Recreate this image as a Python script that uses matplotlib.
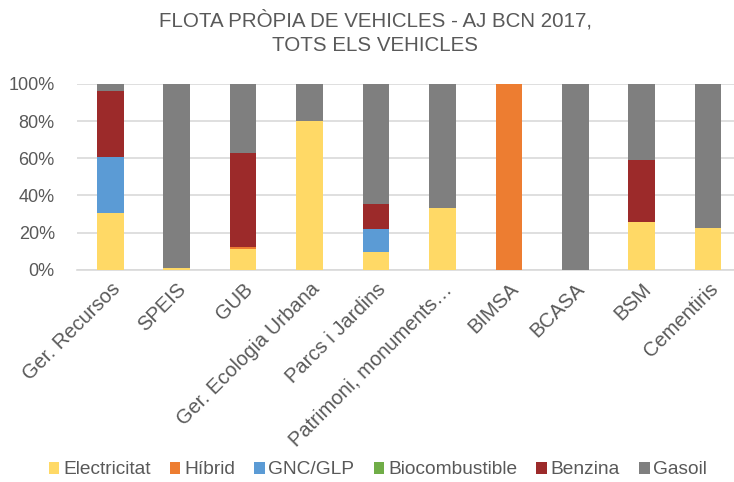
import matplotlib.pyplot as plt
import numpy as np

plt.rcParams['font.family'] = ['Liberation Sans', 'DejaVu Sans']

# Percentages of each department's own fleet, by fuel type
departments = ["Ger. Recursos", "SPEIS", "GUB", "Ger. Ecologia Urbana",
               "Parcs i Jardins", "Patrimoni, monuments\u2026", "BIMSA",
               "BCASA", "BSM", "Cementiris"]
electricitat = [30.4, 1.0, 11.1, 80.0, 9.6, 33.4, 0.0, 0.0, 25.7, 22.5]
hibrid = [0.0, 0.0, 1.4, 0.0, 0.0, 0.0, 100.0, 0.0, 0.0, 0.0]
gnc_glp = [30.3, 0.0, 0.0, 0.0, 12.4, 0.0, 0.0, 0.0, 0.0, 0.0]
biocombustible = [0, 0, 0, 0, 0, 0, 0, 0, 0, 0]
benzina = [35.2, 0.0, 50.5, 0.0, 13.2, 0.0, 0.0, 0.0, 33.2, 0.0]
gasoil = [4.1, 99.0, 37.0, 20.0, 64.8, 66.6, 0.0, 100.0, 41.1, 77.5]

series = [("Electricitat", electricitat, "#FFD966"),
          ("Híbrid", hibrid, "#ED7D31"),
          ("GNC/GLP", gnc_glp, "#5B9BD5"),
          ("Biocombustible", biocombustible, "#70AD47"),
          ("Benzina", benzina, "#9C2A2A"),
          ("Gasoil", gasoil, "#7F7F7F")]

text_color = "#595959"

fig = plt.figure(figsize=(7.34, 4.82), dpi=100)
ax = fig.add_axes([0.105, 0.44, 0.895, 0.386])

x = np.arange(len(departments))
bottom = np.zeros(len(departments))
for name, vals, color in series:
    vals = np.array(vals, dtype=float)
    ax.bar(x, vals, width=0.4, bottom=bottom, color=color, label=name, zorder=3)
    bottom += vals

ax.set_ylim(0, 100)
ax.set_xlim(-0.5, 9.39)
ax.set_yticks(range(0, 101, 20))
ax.set_yticklabels([f"{v}%" for v in range(0, 101, 20)])
ax.yaxis.grid(True, color="#D9D9D9", linewidth=1.2, zorder=0)
ax.set_xticks(x)
ax.set_xticklabels(departments, rotation=45, ha="right", rotation_mode="anchor")
ax.tick_params(axis="both", length=0, labelsize=13, colors=text_color)
ax.tick_params(axis="x", labelsize=14.5, pad=7)
ax.tick_params(axis="y", pad=16)
for s in ["top", "right", "left"]:
    ax.spines[s].set_visible(False)
ax.spines["bottom"].set_color("#D9D9D9")
ax.spines["bottom"].set_linewidth(1.2)

fig.suptitle("FLOTA PRÒPIA DE VEHICLES - AJ BCN 2017,\nTOTS ELS VEHICLES",
             x=0.511, y=0.98, fontsize=14.8, color=text_color, linespacing=1.4)

leg = fig.legend(loc="center", bbox_to_anchor=(0.515, 0.025), ncol=6,
                 frameon=False, fontsize=13.8, handlelength=0.55,
                 handleheight=0.6, handletextpad=0.2, columnspacing=1.0)
for t in leg.get_texts():
    t.set_color(text_color)

fig.savefig("out.png", dpi=100)
